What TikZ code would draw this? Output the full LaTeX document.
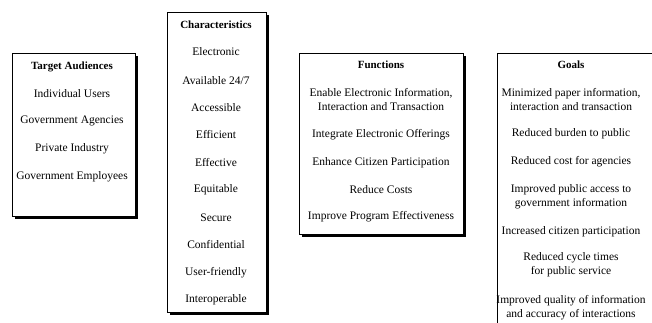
\documentclass[tikz,border=0pt]{standalone}
\usepackage{fontspec}
\setmainfont{Liberation Serif}
\usetikzlibrary{shadows}

\tikzset{
  panel/.style={draw, line width=0.9pt, fill=white, inner sep=0pt,
    drop shadow={fill=black, opacity=1, shadow xshift=3pt, shadow yshift=-3pt}},
  head/.style={font=\bfseries\fontsize{11}{14}\selectfont, inner sep=0pt},
  entry/.style={font=\fontsize{11.5}{14}\selectfont, align=center, inner sep=0pt},
}

\begin{document}
\begin{tikzpicture}[x=1pt,y=-1pt]
  \fill[white] (0,0) rectangle (652,323);
  \clip (0,0) rectangle (652,323);

  % the four panels
  \node[panel, minimum width=123pt, minimum height=163pt] (audbox) at (73.5,134.5) {};
  \node[panel, minimum width=99pt, minimum height=300pt] (charbox) at (216.5,162) {};
  \node[panel, minimum width=164pt, minimum height=181pt] (funcbox) at (381,143.5) {};
  \node[panel, minimum width=170pt, minimum height=320pt] (goalbox) at (582,213) {};

  % target audiences
  \node[head] (aud0) at (72,67) {Target Audiences};
  \foreach \txt/\y/\n in {Individual Users/94/1, Government Agencies/121/2,
      Private Industry/149/3, Government Employees/177/4}
    \node[entry] (aud\n) at (72,\y) {\txt};

  % characteristics
  \node[head] (char0) at (216,25) {Characteristics};
  \foreach \txt/\y/\n in {Electronic/52/1, Available 24{/}7/81/2, Accessible/108/3,
      Efficient/135/4, Effective/163/5, Equitable/190/6, Secure/218/7,
      Confidential/245/8, User-friendly/273/9, Interoperable/300/10}
    \node[entry] (char\n) at (216,\y) {\txt};

  % functions
  \node[head] (func0) at (381,65) {Functions};
  \node[entry] (func1) at (381,100) {Enable Electronic Information,\\Interaction and Transaction};
  \node[entry] (func2) at (381,135) {Integrate Electronic Offerings};
  \node[entry] (func3) at (381,163) {Enhance Citizen Participation};
  \node[entry] (func4) at (381,190) {Reduce Costs};
  \node[entry] (func5) at (381,217) {Improve Program Effectiveness};

  % goals
  \node[head] (goal0) at (571,65) {Goals};
  \node[entry] (goal1) at (571,100) {Minimized paper information,\\interaction and transaction};
  \node[entry] (goal2) at (571,134) {Reduced burden to public};
  \node[entry] (goal3) at (571,162) {Reduced cost for agencies};
  \node[entry] (goal4) at (571,196.5) {Improved public access to\\government information};
  \node[entry] (goal5) at (571,232) {Increased citizen participation};
  \node[entry] (goal6) at (571,265) {Reduced cycle times\\for public service};
  \node[entry] (goal7) at (571,307.5) {Improved quality of information\\and accuracy of interactions};
\end{tikzpicture}
\end{document}
